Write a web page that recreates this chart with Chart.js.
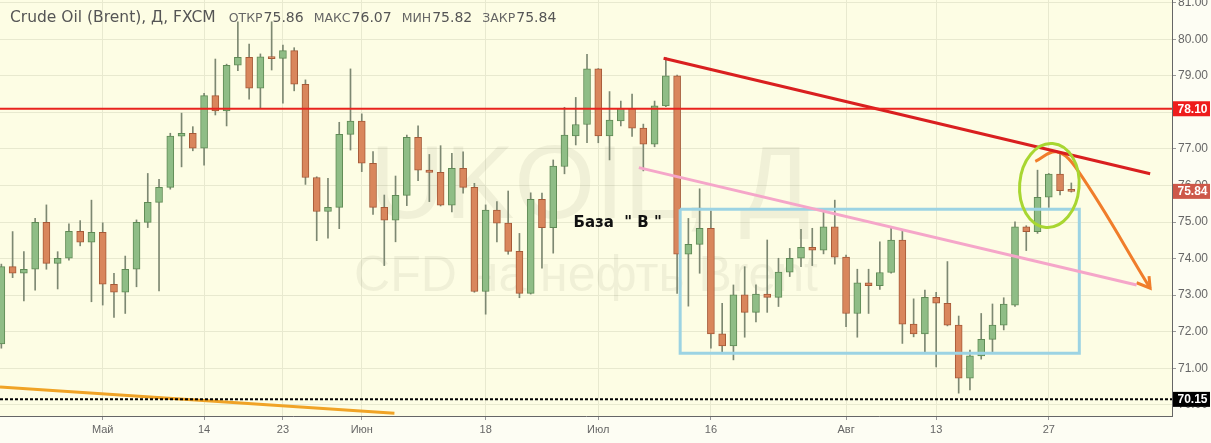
<!DOCTYPE html>
<html>
<head>
<meta charset="utf-8">
<script src="https://cdn.jsdelivr.net/npm/chart.js@4.4.1/dist/chart.umd.min.js"></script>
<style>
  html, body { margin: 0; padding: 0; background: #fdfdf3; }
</style>
</head>
<body>
<canvas id="chart" width="1211" height="443"></canvas>
<script>
// trading day of the first candle, counted from 1 May (day 0)
const firstDay = -9;

const opens = [
  71.67, 73.78, 73.60, 73.71, 74.99, 73.87, 74.01, 74.75, 74.45,
  74.72, 73.30, 73.08, 73.71, 74.99, 75.54, 75.95, 77.35, 77.43, 77.02,
  78.46, 78.04, 79.29, 79.51, 78.66, 79.52, 79.48, 79.69, 78.77, 76.22,
  75.29, 75.40, 77.40, 77.76, 76.61, 75.40, 75.05, 75.73, 77.32, 76.42,
  76.36, 75.46, 76.47, 75.95, 73.10, 75.33, 74.97, 74.20, 73.05, 75.62,
  74.85, 76.52, 77.36, 77.67, 79.19, 77.36, 77.77, 78.11, 77.57, 77.13,
  78.18, 79.00, 74.12, 74.39, 74.83, 71.94, 71.61, 73.01, 72.53, 73.03,
  72.94, 73.63, 74.01, 74.31, 74.23, 74.87, 74.04, 72.50, 73.34, 73.26,
  73.62, 74.51, 72.21, 71.94, 72.94, 72.78, 72.18, 70.73, 71.34, 71.79,
  72.18, 72.73, 74.87, 74.74, 75.68, 76.31, 75.86
];
const highs = [
  73.85, 74.74, 74.19, 75.10, 75.47, 74.19, 74.95, 75.04, 75.60,
  74.98, 73.60, 74.07, 75.06, 76.33, 76.17, 77.43, 77.98, 77.61, 78.52,
  79.46, 79.32, 80.48, 79.87, 79.60, 80.48, 79.84, 79.77, 78.89, 76.24,
  76.20, 77.73, 79.19, 77.96, 76.93, 75.74, 76.26, 77.38, 77.63, 76.85,
  77.09, 76.88, 76.92, 76.06, 75.47, 75.56, 75.85, 74.69, 75.80, 75.79,
  76.70, 78.14, 78.41, 79.59, 79.20, 78.57, 78.31, 78.50, 77.68, 78.31,
  79.50, 79.02, 75.10, 75.91, 75.31, 72.78, 73.28, 73.78, 73.28, 74.51,
  74.01, 74.28, 74.80, 74.83, 75.27, 75.60, 74.10, 73.71, 73.71, 74.46,
  74.83, 74.78, 72.90, 73.14, 73.08, 73.92, 72.43, 71.50, 72.50, 72.76,
  72.93, 75.01, 74.90, 76.42, 76.33, 76.88, 76.07
];
const lows = [
  71.55, 73.48, 72.84, 73.14, 73.71, 73.17, 73.96, 74.35, 72.82,
  72.73, 72.39, 72.50, 73.23, 74.85, 73.12, 75.90, 76.51, 76.95, 76.56,
  77.93, 77.63, 79.14, 78.36, 78.11, 79.16, 78.25, 78.59, 76.03, 74.49,
  74.56, 74.82, 76.97, 76.38, 75.21, 73.81, 74.46, 75.45, 76.13, 75.56,
  75.44, 75.28, 75.79, 73.08, 72.48, 74.46, 74.12, 72.93, 73.03, 73.74,
  74.15, 76.32, 77.11, 77.17, 77.17, 76.70, 77.63, 77.34, 76.40, 77.06,
  78.16, 73.05, 72.70, 73.60, 71.55, 71.45, 71.23, 71.85, 72.27, 72.53,
  72.69, 73.51, 73.78, 73.81, 74.13, 73.85, 72.14, 71.85, 72.50, 73.16,
  73.60, 71.68, 71.86, 71.45, 71.04, 72.16, 70.32, 70.41, 71.25, 71.45,
  72.05, 72.69, 74.22, 74.69, 75.40, 75.74, 75.82
];
const closes = [
  73.78, 73.60, 73.71, 74.99, 73.87, 74.01, 74.75, 74.45, 74.72,
  73.30, 73.08, 73.71, 74.99, 75.54, 75.95, 77.35, 77.43, 77.02, 78.46,
  78.04, 79.29, 79.51, 78.66, 79.52, 79.47, 79.69, 78.77, 76.22, 75.29,
  75.40, 77.40, 77.76, 76.61, 75.40, 75.05, 75.73, 77.32, 76.42, 76.36,
  75.46, 76.47, 75.95, 73.10, 75.33, 74.97, 74.20, 73.05, 75.62, 74.85,
  76.53, 77.38, 77.67, 79.19, 77.36, 77.79, 78.11, 77.57, 77.13, 78.18,
  79.00, 74.12, 74.39, 74.83, 71.94, 71.61, 73.01, 72.53, 73.03, 72.94,
  73.63, 74.01, 74.31, 74.23, 74.87, 74.04, 72.50, 73.34, 73.26, 73.62,
  74.51, 72.21, 71.94, 72.94, 72.78, 72.18, 70.73, 71.34, 71.79, 72.18,
  72.76, 74.87, 74.74, 75.68, 76.31, 75.86, 75.84
];

const tickDays = [0, 9, 16, 23, 34, 44, 54, 66, 74, 84];
const tickLabels = ['Май', '14', '23', 'Июн', '18', 'Июл', '16', 'Авг', '13', '27'];
const priceTicks = [70, 71, 72, 73, 74, 75, 76, 77, 78, 79, 80, 81];

const viewDays = [-9.12, 94.94];
const viewPrices = [69.695, 81.075];

// drawings on the chart, as [day, price]
const resistance = 78.10;
const support = 70.15;
const redTrend = [[49.8, 79.48], [93.0, 76.32]];
const pinkTrend = [[47.6, 76.49], [91.8, 73.28]];
const orangeTrend = [[-9.12, 70.49], [25.9, 69.77]];
const baseBox = [[51.27, 75.35], [86.71, 75.35], [86.71, 71.41], [51.27, 71.41], [51.27, 75.35]];
const arrowPath = [[82.8, 76.66], [84.7, 76.92], [86.6, 76.40], [93.0, 73.19]];
const arrowHead = [[92.9, 73.52], [93.0, 73.19], [91.8, 73.34]];
const ellipse = { day: 84.05, price: 76.0, rDays: 2.64, rPrice: 1.15 };
const baseLabel = { day: 41.8, price: 74.97, text: 'База  " В "' };

const GREEN = '#8fbd86', GREEN_EDGE = '#5f8a55';
const RED = '#d9865c', RED_EDGE = '#a65a38';

const last = closes.length - 1;
const candleDays = closes.map((c, i) => firstDay + i);
const isUp = closes.map((c, i) => c >= opens[i]);

function seg(points, color, width, dash) {
  return {
    type: 'line',
    data: points.map(p => ({ x: p[0], y: p[1] })),
    borderColor: color,
    borderWidth: width,
    borderDash: dash || [],
    pointRadius: 0,
    fill: false,
    tension: 0,
    order: 0
  };
}

const overlay = {
  id: 'overlay',
  beforeDraw(chart) {
    const ctx = chart.ctx, a = chart.chartArea;
    ctx.save();
    ctx.fillStyle = '#fdfdf3';
    ctx.fillRect(0, 0, chart.width, chart.height);
    ctx.fillStyle = '#fdfde4';
    ctx.fillRect(a.left, a.top, a.right - a.left, a.bottom - a.top);
    ctx.restore();
  },
  beforeDatasetsDraw(chart) {
    const ctx = chart.ctx, a = chart.chartArea;
    const cx = (a.left + a.right) / 2;
    ctx.save();
    ctx.fillStyle = 'rgba(90, 90, 60, 0.08)';
    ctx.textAlign = 'center';
    ctx.textBaseline = 'alphabetic';
    ctx.font = '104px "Liberation Sans", Arial, sans-serif';
    ctx.fillText('UKOIL, Д', cx + 4, 218);
    ctx.font = '50px "Liberation Sans", Arial, sans-serif';
    ctx.fillText('CFD на нефть Brent', cx, 291);
    ctx.restore();
  },
  afterDatasetsDraw(chart) {
    const ctx = chart.ctx, xs = chart.scales.x, ys = chart.scales.y;
    ctx.save();
    // ellipse around the last candles
    const ex = xs.getPixelForValue(ellipse.day), ey = ys.getPixelForValue(ellipse.price);
    const rx = xs.getPixelForValue(ellipse.day + ellipse.rDays) - ex;
    const ry = ey - ys.getPixelForValue(ellipse.price + ellipse.rPrice);
    ctx.strokeStyle = '#a8d631';
    ctx.lineWidth = 3;
    ctx.beginPath();
    ctx.ellipse(ex, ey, rx, ry, 0.08, 0, Math.PI * 2);
    ctx.stroke();

    // label
    ctx.fillStyle = '#111';
    ctx.font = 'bold 15px "DejaVu Sans", sans-serif';
    ctx.textBaseline = 'middle';
    ctx.fillText(baseLabel.text, xs.getPixelForValue(baseLabel.day), ys.getPixelForValue(baseLabel.price));

    // header
    const parts = [
      ['Crude Oil (Brent), Д, FXCM', '15.5px "DejaVu Sans", sans-serif', '#555', 13],
      ['ОТКР', '12.5px "DejaVu Sans", sans-serif', '#666', 1],
      [opens[last].toFixed(2), '14px "DejaVu Sans", sans-serif', '#555', 10],
      ['МАКС', '12.5px "DejaVu Sans", sans-serif', '#666', 1],
      [highs[last].toFixed(2), '14px "DejaVu Sans", sans-serif', '#555', 10],
      ['МИН', '12.5px "DejaVu Sans", sans-serif', '#666', 1],
      [lows[last].toFixed(2), '14px "DejaVu Sans", sans-serif', '#555', 10],
      ['ЗАКР', '12.5px "DejaVu Sans", sans-serif', '#666', 1],
      [closes[last].toFixed(2), '14px "DejaVu Sans", sans-serif', '#555', 0]
    ];
    let x = chart.chartArea.left + 10;
    ctx.textBaseline = 'alphabetic';
    parts.forEach(p => {
      ctx.font = p[1];
      ctx.fillStyle = p[2];
      ctx.fillText(p[0], x, 22);
      x += ctx.measureText(p[0]).width + p[3];
    });
    ctx.restore();
  },
  afterDraw(chart) {
    const ctx = chart.ctx, ys = chart.scales.y;
    const boxes = [
      [resistance, '#ee1c1c'],
      [closes[last], '#cd5849'],
      [support, '#000']
    ];
    ctx.save();
    ctx.font = 'bold 12px "Liberation Sans", Arial, sans-serif';
    ctx.textAlign = 'center';
    ctx.textBaseline = 'middle';
    boxes.forEach(b => {
      const y = ys.getPixelForValue(b[0]);
      ctx.fillStyle = b[1];
      ctx.fillRect(ys.left + 1, y - 7.5, chart.width - ys.left - 2, 15);
      ctx.fillStyle = '#fff';
      ctx.fillText(b[0].toFixed(2), (ys.left + chart.width) / 2 + 1, y + 0.5);
    });
    ctx.restore();
  }
};

new Chart(document.getElementById('chart'), {
  type: 'bar',
  data: {
    datasets: [
      seg([[viewDays[0], resistance], [viewDays[1], resistance]], '#e8231d', 2),
      seg([[viewDays[0], support], [viewDays[1], support]], '#000', 2, [3, 2]),
      seg(orangeTrend, '#f0a326', 3),
      seg(redTrend, '#d91f1f', 3),
      seg(pinkTrend, '#f5a6c9', 3),
      seg(baseBox, '#9cd3e3', 3),
      Object.assign(seg(arrowPath, '#f07d2b', 3), { tension: 0.4 }),
      seg(arrowHead, '#f07d2b', 3),
      {
        type: 'bar',
        data: candleDays.map((d, i) => ({ x: d, y: [opens[i], closes[i]] })),
        backgroundColor: isUp.map(u => u ? GREEN : RED),
        borderColor: isUp.map(u => u ? GREEN_EDGE : RED_EDGE),
        borderWidth: 1,
        borderSkipped: false,
        barThickness: 7,
        minBarLength: 2,
        grouped: false,
        order: 1
      },
      {
        type: 'bar',
        data: candleDays.map((d, i) => ({ x: d, y: [lows[i], highs[i]] })),
        backgroundColor: '#7d8872',
        borderWidth: 0,
        barThickness: 1,
        grouped: false,
        order: 2
      }
    ]
  },
  options: {
    responsive: false,
    animation: false,
    events: [],
    devicePixelRatio: 1,
    layout: { padding: 0 },
    plugins: { legend: { display: false }, tooltip: { enabled: false } },
    scales: {
      x: {
        type: 'linear',
        min: viewDays[0],
        max: viewDays[1],
        offset: false,
        grid: { color: '#e8e9cf', tickColor: '#999', tickLength: 4, offset: false },
        border: { color: '#666' },
        afterBuildTicks: s => { s.ticks = tickDays.map(v => ({ value: v })); },
        afterFit: s => { s.height = 27; s.paddingLeft = 0; s.paddingRight = 0; },
        ticks: {
          autoSkip: false,
          maxRotation: 0,
          padding: 3,
          color: '#666',
          font: { family: '"Liberation Sans Narrow", "Liberation Sans", Arial', size: 11 },
          callback: v => tickLabels[tickDays.indexOf(v)]
        }
      },
      y: {
        position: 'right',
        min: viewPrices[0],
        max: viewPrices[1],
        grid: { color: '#e8e9cf', tickColor: '#999', tickLength: 4 },
        border: { color: '#666' },
        afterBuildTicks: s => { s.ticks = priceTicks.map(v => ({ value: v })); },
        afterFit: s => { s.width = 39; s.paddingTop = 0; s.paddingBottom = 0; },
        ticks: {
          padding: 2,
          color: '#666',
          font: { family: '"Liberation Sans Narrow", "Liberation Sans", Arial', size: 12 },
          callback: v => v.toFixed(2)
        }
      }
    }
  },
  plugins: [overlay]
});
</script>
</body>
</html>
